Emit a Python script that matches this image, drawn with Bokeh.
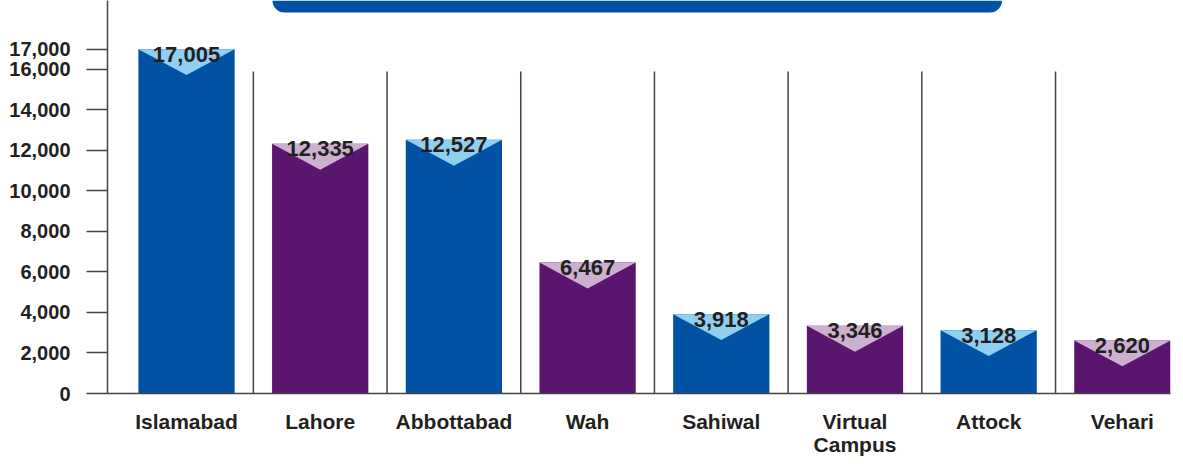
from bokeh.plotting import figure
from bokeh.models import ColumnDataSource, FixedTicker, NumeralTickFormatter, Range1d, BoxAnnotation
from bokeh.core.properties import value
from bokeh.embed import file_html
from bokeh.resources import INLINE

# ---- data ----
campuses = ["Islamabad", "Lahore", "Abbottabad", "Wah", "Sahiwal", "Virtual\nCampus", "Attock", "Vehari"]
students = [17005, 12335, 12527, 6467, 3918, 3346, 3128, 2620]
value_labels = ["17,005", "12,335", "12,527", "6,467", "3,918", "3,346", "3,128", "2,620"]
y_ticks = [0, 2000, 4000, 6000, 8000, 10000, 12000, 14000, 16000, 17000]

# ---- styles ----
BLUE, PURPLE = "#0152a4", "#5a156e"
LIGHT_BLUE, LAVENDER = "#8fd0f2", "#cdb0d0"
FONT = "Liberation Sans, Arial, sans-serif"
BAR_W = 0.72
NOTCH = 1280          # depth of the V notch in data units
SEP_TOP = 15900       # height of separator lines

xs = list(range(len(campuses)))
bar_colors = [BLUE if i % 2 == 0 else PURPLE for i in xs]
notch_colors = [LIGHT_BLUE if i % 2 == 0 else LAVENDER for i in xs]

src = ColumnDataSource(dict(
    x=xs, top=students, label=value_labels, color=bar_colors, ncolor=notch_colors,
    nx=[[x - BAR_W / 2, x + BAR_W / 2, x] for x in xs],
    ny=[[v, v, v - NOTCH] for v in students],
))

p = figure(width=1175, height=458, output_backend="svg", toolbar_location=None,
           x_range=Range1d(-0.591, 7.36), y_range=Range1d(0, 19407),
           min_border_left=107, min_border_right=5, min_border_top=0, min_border_bottom=65)
p.outline_line_color = None
p.grid.grid_line_color = None
p.background_fill_color = "white"

# title banner (cut off at the top)
p.add_layout(BoxAnnotation(left=0.643, right=6.10, bottom=18815, fill_color=BLUE, fill_alpha=1,
                           line_color=None, border_radius=dict(top_left=0, top_right=0,
                                                               bottom_right=12, bottom_left=12)))

# separators
p.segment(x0=[x + 0.5 for x in xs[:-1]], y0=0, x1=[x + 0.5 for x in xs[:-1]], y1=SEP_TOP,
          line_color="#444444", line_width=1.5)

p.vbar(x="x", top="top", bottom=0, width=BAR_W, fill_color="color", line_color=None, source=src)
p.patches(xs="nx", ys="ny", fill_color="ncolor", line_color=None, source=src)
p.text(x="x", y="top", text="label", source=src, text_align="center", text_baseline="alphabetic",
       y_offset=5, text_font=value(FONT), text_font_style="bold", text_font_size="22px",
       text_color="#231f20")

# y axis
ya = p.yaxis[0]
ya.ticker = FixedTicker(ticks=y_ticks)
ya.formatter = NumeralTickFormatter(format="0,0")
ya.major_tick_out = 21
ya.major_tick_in = 0
ya.minor_tick_out = 0
ya.minor_tick_in = 0
ya.major_label_standoff = 16
ya.axis_line_color = "#444444"
ya.axis_line_width = 1.5
ya.major_tick_line_color = "#444444"
ya.major_tick_line_width = 1.5
ya.major_label_text_font = FONT
ya.major_label_text_font_style = "bold"
ya.major_label_text_font_size = "20px"
ya.major_label_text_color = "#231f20"

# x axis
xa = p.xaxis[0]
xa.ticker = FixedTicker(ticks=xs)
xa.major_label_overrides = {x: c for x, c in zip(xs, campuses)}
xa.major_tick_out = 0
xa.major_tick_in = 0
xa.minor_tick_out = 0
xa.minor_tick_in = 0
xa.major_label_standoff = 16
xa.axis_line_color = "#444444"
xa.axis_line_width = 1.5
xa.major_label_text_font = FONT
xa.major_label_text_font_style = "bold"
xa.major_label_text_font_size = "21px"
xa.major_label_text_line_height = 1.0
xa.major_label_text_color = "#231f20"

open("out.html", "w").write(file_html(p, INLINE))
